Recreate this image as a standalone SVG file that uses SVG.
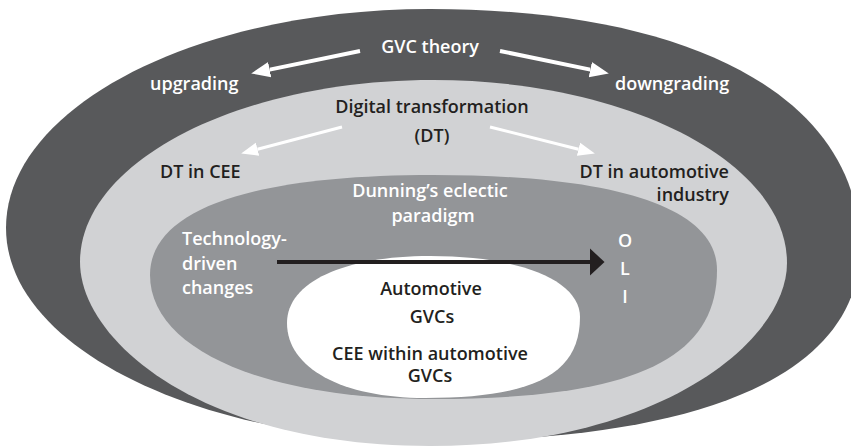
<svg xmlns="http://www.w3.org/2000/svg" width="851" height="447" viewBox="0 0 851 447">
<style>
  text { font-family: "Open Sans", "Noto Sans", "DejaVu Sans", sans-serif; font-weight: 600; font-size: 18px; }
  .w { fill: #ffffff; }
  .k { fill: #231f20; }
  .mid { text-anchor: middle; }
  .end { text-anchor: end; }
  .wa { stroke: #ffffff; fill: none; }
</style>
<defs>
  <marker id="wh" markerUnits="userSpaceOnUse" markerWidth="20" markerHeight="20" viewBox="0 -8 18 16" refX="0" refY="0" orient="auto">
    <path d="M0,-7 L17,0 L0,7 z" fill="#ffffff"/>
  </marker>
  <marker id="wh2" markerUnits="userSpaceOnUse" markerWidth="18" markerHeight="16" viewBox="0 -7 16 14" refX="0" refY="0" orient="auto">
    <path d="M0,-6 L15,0 L0,6 z" fill="#ffffff"/>
  </marker>
  <marker id="bk" markerUnits="userSpaceOnUse" markerWidth="16" markerHeight="28" viewBox="0 -13 14 26" refX="0" refY="0" orient="auto">
    <path d="M0,-12.5 L13.5,0 L0,12.5 z" fill="#231f20"/>
  </marker>
</defs>

<g id="gvc-theory">
  <path d="M6,228 C6,107 196,9 430,9 C697,9 860,100 860,248 C860,380 690,441 430,441 C200,441 6,348 6,228 Z" fill="#58595b"/>
  <text class="w mid" x="430" y="53">GVC theory</text>
  <text class="w" x="150" y="90">upgrading</text>
  <text class="w" x="615" y="90">downgrading</text>
</g>

<g id="digital-transformation">
  <path d="M80,262 C80,162 238,80 433,80 C628,80 787,162 787,263 C787,341 660,446 430,446 C200,446 80,340 80,262 Z" fill="#d1d2d4"/>
  <text class="k mid" x="432" y="113">Digital transformation</text>
  <text class="k mid" x="432" y="142">(DT)</text>
  <text class="k" x="160" y="178">DT in CEE</text>
  <text class="k end" x="729" y="178">DT in automotive</text>
  <text class="k end" x="729" y="201">industry</text>
</g>

<g id="dunning-paradigm">
  <path d="M150,275 C150,210 249,175 433,175 C618,175 717,208 717,270 C717,360 632,399 433,399 C263,399 150,349 150,275 Z" fill="#939598"/>
  <text class="w mid" x="430" y="197">Dunning’s eclectic</text>
  <text class="w mid" x="433" y="222">paradigm</text>
  <text class="w" x="182" y="245">Technology-</text>
  <text class="w" x="182" y="270">driven</text>
  <text class="w" x="182" y="294">changes</text>
  <text class="w mid" x="625" y="247">O</text>
  <text class="w mid" x="625" y="275">L</text>
  <text class="w mid" x="625" y="303">I</text>
</g>

<g id="automotive-gvcs">
  <path d="M287,323 C287,282 344,256 430,256 C520,256 580,280 580,317 C580,374 534,398 425,398 C342,398 287,368 287,323 Z" fill="#ffffff"/>
  <text class="k mid" x="431" y="295">Automotive</text>
  <text class="k mid" x="432" y="323">GVCs</text>
  <text class="k mid" x="430" y="360">CEE within automotive</text>
  <text class="k mid" x="430" y="382">GVCs</text>
</g>

<g id="connectors">
  <line class="wa" x1="360" y1="51" x2="269.7" y2="69.6" stroke-width="4" marker-end="url(#wh)"/>
  <line class="wa" x1="500" y1="51" x2="590.3" y2="69.6" stroke-width="4" marker-end="url(#wh)"/>
  <line class="wa" x1="342" y1="127" x2="257.5" y2="149.2" stroke-width="3" marker-end="url(#wh2)"/>
  <line class="wa" x1="490" y1="127" x2="578.5" y2="149.3" stroke-width="3" marker-end="url(#wh2)"/>
  <line x1="277" y1="262" x2="590" y2="262" stroke="#231f20" stroke-width="4" marker-end="url(#bk)"/>
</g>
</svg>
